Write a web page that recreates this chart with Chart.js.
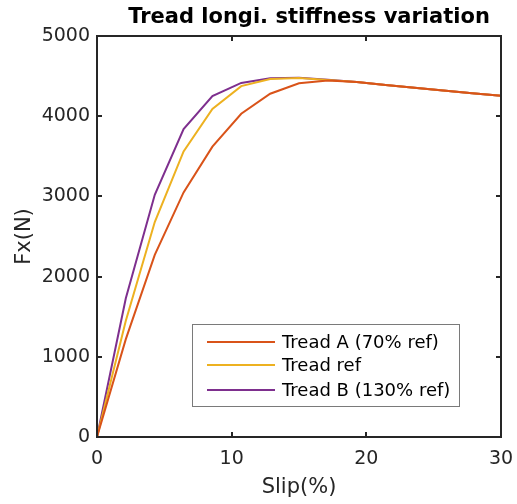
<!DOCTYPE html>
<html>
<head>
<meta charset="utf-8">
<script src="https://cdn.jsdelivr.net/npm/chart.js@4.4.1/dist/chart.umd.min.js"></script>
<style>
   body { margin: 0; background: #fff; }
   canvas { display: block; }
</style>
</head>
<body>
<canvas id="chartTread" width="517" height="504"></canvas>
<script>
// slip values (%) where the curves were sampled
const slip = [0, 2.14, 4.29, 6.43, 8.57, 10.71, 12.86, 15, 17.14, 19.29, 21.43, 23.57, 25.71, 27.86, 30];
const treadA = [0, 1220, 2270, 3050, 3620, 4030, 4280, 4410, 4445, 4425, 4390, 4355, 4320, 4285, 4255];
const treadRef = [0, 1450, 2680, 3560, 4090, 4375, 4465, 4475, 4452, 4425, 4390, 4355, 4320, 4285, 4255];
const treadB = [0, 1730, 3020, 3840, 4250, 4415, 4472, 4478, 4455, 4425, 4390, 4355, 4320, 4285, 4255];
const seriesNames = ['Tread A (70% ref)', 'Tread ref', 'Tread B (130% ref)'];
const seriesColors = ['#D95319', '#EDB120', '#7E2F8E'];
const xTicks = [0, 10, 20, 30];
const yTicks = [0, 1000, 2000, 3000, 4000, 5000];

const AXIS_COLOR = '#262626';
const FONT = "'DejaVu Sans', sans-serif";

const toPoints = vals => vals.map((v, i) => ({ x: slip[i], y: v }));

// box, inward ticks, title and legend like the original figure
const matlabLook = {
   id: 'matlabLook',
   afterDraw(chart) {
      const { ctx, chartArea: a, scales } = chart;
      ctx.save();
      ctx.strokeStyle = AXIS_COLOR;
      ctx.lineWidth = 2;
      ctx.strokeRect(a.left, a.top, a.right - a.left, a.bottom - a.top);

      const tl = 5;
      ctx.beginPath();
      xTicks.slice(1, -1).forEach(v => {
         const px = Math.round(scales.x.getPixelForValue(v));
         ctx.moveTo(px, a.bottom); ctx.lineTo(px, a.bottom - tl);
         ctx.moveTo(px, a.top); ctx.lineTo(px, a.top + tl);
      });
      yTicks.slice(1, -1).forEach(v => {
         const py = Math.round(scales.y.getPixelForValue(v));
         ctx.moveTo(a.left, py); ctx.lineTo(a.left + tl, py);
         ctx.moveTo(a.right, py); ctx.lineTo(a.right - tl, py);
      });
      ctx.stroke();

      // title (sits a little right of the plot centre, as in the figure)
      ctx.fillStyle = '#000';
      ctx.font = 'bold 21px ' + FONT;
      ctx.textAlign = 'center';
      ctx.textBaseline = 'middle';
      ctx.fillText('Tread longi. stiffness variation', (a.left + a.right) / 2 + 10, 18);

      // legend
      const lx = 192, ly = 324, lw = 267, lh = 82;
      ctx.fillStyle = '#fff';
      ctx.fillRect(lx, ly, lw, lh);
      ctx.strokeStyle = '#7a7a7a';
      ctx.lineWidth = 1;
      ctx.strokeRect(lx + 0.5, ly + 0.5, lw, lh);
      const rows = [342, 365, 390];
      ctx.font = '18px ' + FONT;
      ctx.textAlign = 'left';
      chart.data.datasets.forEach((ds, i) => {
         ctx.strokeStyle = ds.borderColor;
         ctx.lineWidth = 2;
         ctx.beginPath();
         ctx.moveTo(207, rows[i]);
         ctx.lineTo(275, rows[i]);
         ctx.stroke();
         ctx.fillStyle = '#000';
         ctx.fillText(ds.label, 282, rows[i] + 1);
      });
      ctx.restore();
   }
};

const ctx = document.getElementById('chartTread').getContext('2d');
const chartTread = new Chart(ctx, {
   type: 'line',
   data: {
      datasets: [
         { label: seriesNames[0], data: toPoints(treadA), borderColor: seriesColors[0] },
         { label: seriesNames[1], data: toPoints(treadRef), borderColor: seriesColors[1] },
         { label: seriesNames[2], data: toPoints(treadB), borderColor: seriesColors[2] },
      ].map(ds => Object.assign(ds, { borderWidth: 2, pointRadius: 0, tension: 0, fill: false }))
   },
   options: {
      responsive: false,
      animation: false,
      layout: { padding: { top: 36, right: 16, left: 0, bottom: 0 } },
      scales: {
         x: {
            type: 'linear',
            min: 0,
            max: 30,
            afterFit: scale => {
               scale.height = 67;
               scale.paddingLeft = 0;
               scale.paddingRight = 0;
            },
            afterBuildTicks: scale => { scale.ticks = xTicks.map(v => ({ value: v })); },
            grid: { display: false, drawTicks: false },
            border: { display: false },
            ticks: {
               color: AXIS_COLOR, padding: 11, maxRotation: 0,
               font: { family: FONT, size: 19 },
               callback: v => String(v)
            },
            title: {
               display: true,
               text: 'Slip(%)',
               color: AXIS_COLOR,
               padding: { bottom: 4, top: 0 },
               font: { family: FONT, size: 21 }
            }
         },
         y: {
            min: 0,
            max: 5000,
            afterFit: scale => { scale.width = 97; },
            afterBuildTicks: scale => { scale.ticks = yTicks.map(v => ({ value: v })); },
            grid: { display: false, drawTicks: false },
            border: { display: false },
            ticks: {
               color: AXIS_COLOR, padding: 7,
               font: { family: FONT, size: 19 },
               callback: v => String(v)
            },
            title: {
               display: true,
               text: 'Fx(N)',
               color: AXIS_COLOR,
               padding: { top: 12, bottom: 0 },
               font: { family: FONT, size: 21 }
            }
         }
      },
      plugins: {
         legend: { display: false },
         title: { display: false },
         tooltip: { enabled: false }
      }
   },
   plugins: [matlabLook]
});
</script>
</body>
</html>
